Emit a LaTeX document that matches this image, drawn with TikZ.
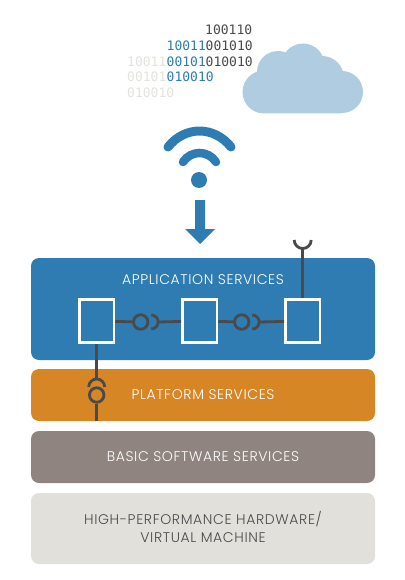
\documentclass[tikz,border=0pt]{standalone}
\usepackage{fontspec}
\setmainfont{Poppins}[UprightFont=* Light,LetterSpace=4.5]
\newfontfamily\bitfont{DejaVu Sans Mono}
\definecolor{appblue}{HTML}{2E7CB2}
\definecolor{platorange}{HTML}{D78625}
\definecolor{basicgray}{HTML}{8F8480}
\definecolor{hwgray}{HTML}{E1E0DB}
\definecolor{cloudblue}{HTML}{B0CCE0}
\definecolor{wiredark}{HTML}{4A4A4A}
\definecolor{bitgray}{HTML}{E3E2DD}
\tikzset{
  layer/.style={rounded corners=8pt,minimum width=344pt,inner sep=0pt,align=center,
    font=\fontsize{14}{18}\selectfont,text=white},
  swc/.style={draw=white,line width=2.6pt,fill=appblue,minimum width=34.5pt,minimum height=43.5pt,inner sep=0pt},
  wire/.style={draw=wiredark,line width=2.8pt},
  ball/.style={circle,wire,minimum size=14.5pt,inner sep=0pt},
  bits/.style={anchor=base west,inner sep=0pt,font=\fontsize{13}{13}\bitfont}
}
\begin{document}
\begin{tikzpicture}[x=1pt,y=-1pt]
  \useasboundingbox (0,0) rectangle (404,580);

  % binary data
  \node[bits,text=wiredark] (r1d) at (205,35) {100110};
  \node[bits,text=appblue] (r2b) at (166.5,51) {10011};
  \node[bits,text=wiredark] (r2d) at (205.5,51) {001010};
  \node[bits,text=bitgray] (r3g) at (127,67) {10011};
  \node[bits,text=appblue] (r3b) at (166.5,67) {00101};
  \node[bits,text=wiredark] (r3d) at (205.5,67) {010010};
  \node[bits,text=bitgray] (r4g) at (127,82) {00101};
  \node[bits,text=appblue] (r4b) at (166.5,82) {010010};
  \node[bits,text=bitgray] (r5g) at (127,98) {010010};

  % cloud
  \fill[cloudblue] (264,92) circle (21.5pt) (342,92) circle (21pt)
    (278,72) circle (21pt) (303,65) circle (21.5pt) (322,78) circle (22pt)
    (264,75) rectangle (342,113.5);

  % wifi
  \fill[appblue] (199,180) circle (8pt);
  \draw[appblue,line width=9pt,line cap=round] (168,147) .. controls (185,125.7) and (214,125.7) .. (231,147);
  \draw[appblue,line width=8.5pt,line cap=round] (183,162) .. controls (191,150) and (208,150) .. (216,162);
  \fill[appblue] (195,200) -- (205,200) -- (205,229) -- (215,229) -- (200,244) -- (185,229) -- (195,229) -- cycle;

  % layers
  \node[layer,fill=appblue,minimum height=102pt] (app) at (203,309) {};
  \node[layer] (appl) at (203,279.5) {APPLICATION SERVICES};
  \node[layer,fill=platorange,minimum height=52pt] (plat) at (203,395) {PLATFORM SERVICES};
  \node[layer,fill=basicgray,minimum height=52pt] (basic) at (203,457) {BASIC SOFTWARE SERVICES};
  \node[layer,fill=hwgray,minimum height=71pt] (hw) at (203,528.5) {};
  \node[layer,text=wiredark] (hwl) at (203,526.5) {HIGH-PERFORMANCE HARDWARE/\\VIRTUAL MACHINE};

  \node[swc] (swc1) at (96.7,321) {};
  \node[swc] (swc2) at (199.7,321) {};
  \node[swc] (swc3) at (302.7,321) {};

  % ports
  \node[ball] (ball1) at (140.7,322) {};
  \node[ball] (ball2) at (241.7,322) {};
  \node[ball] (ball3) at (96.7,395) {};
  \coordinate (sock1) at (158.2,322);
  \coordinate (sock2) at (259.2,322);
  \coordinate (sock3) at (96.7,379);
  \coordinate (sock4) at (302.7,248.5);
  \coordinate (platend) at (96.7,421);

  \draw[wire] (swc1) -- (ball1);
  \draw[wire] (sock1) -- (swc2);
  \draw[wire] (swc2) -- (ball2);
  \draw[wire] (sock2) -- (swc3);
  \draw[wire] (swc1) -- (sock3);
  \draw[wire] (ball3) -- (platend);
  \draw[wire] (swc3) -- (sock4);
  \draw[wire] (151.2,315) arc[start angle=90,end angle=-90,radius=7pt];
  \draw[wire] (252.2,315) arc[start angle=90,end angle=-90,radius=7pt];
  \draw[wire] (88.7,387) arc[start angle=180,end angle=0,radius=8pt];
  \draw[wire] (294.2,240) arc[start angle=180,end angle=360,radius=8.5pt];
\end{tikzpicture}
\end{document}
